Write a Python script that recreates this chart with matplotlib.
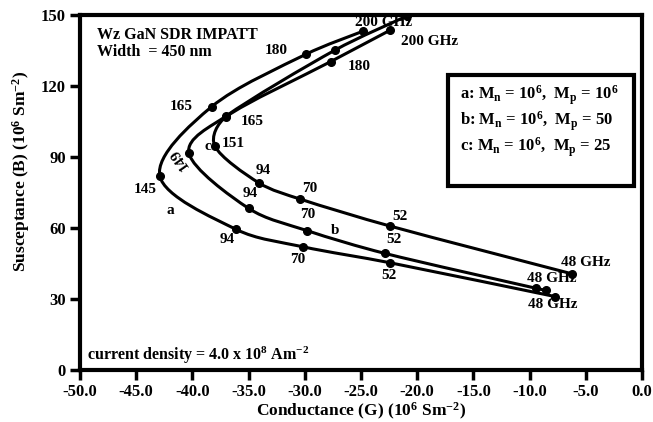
import numpy as np
import matplotlib
matplotlib.use("Agg")
from matplotlib import pyplot as plt
from matplotlib.path import Path
from matplotlib.patches import PathPatch, Rectangle

plt.rcParams['font.family'] = ['Liberation Serif', 'DejaVu Serif']
plt.rcParams['font.weight'] = 'bold'
plt.rcParams['axes.labelweight'] = 'bold'
plt.rcParams['mathtext.fontset'] = 'custom'
plt.rcParams['mathtext.rm'] = 'Liberation Serif:bold'
plt.rcParams['mathtext.bf'] = 'Liberation Serif:bold'
plt.rcParams['mathtext.it'] = 'Liberation Serif:bold'

# conductance G (10^6 S/m^2) and susceptance B (10^6 S/m^2)
# curve a : Mn = 1e6, Mp = 1e6   (200, 180, 165, 145, 94, 70, 52, 48 GHz)
G_a = [-24.8, -29.9, -38.3, -42.9, -36.1, -30.2, -22.4, -7.7]
B_a = [143.2, 133.4, 111.2, 82.0, 59.4, 52.1, 45.3, 31.0]
# curve b : Mn = 1e6, Mp = 50   (200, 180, 165, 149, 94, 70, 52, .., 48 GHz)
G_b = [-20.9, -27.3, -37.0, -40.3, -35.0, -29.8, -22.9, -9.4, -8.5]
B_b = [149.6, 135.2, 107.3, 91.5, 68.3, 58.9, 49.3, 34.5, 33.6]
# curve c : Mn = 1e6, Mp = 25   (200, 180, 165, 151, 94, 70, 52, 48 GHz)
G_c = [-22.4, -27.7, -37.0, -38.0, -34.1, -30.4, -22.4, -6.2]
B_c = [143.6, 130.3, 107.0, 94.6, 79.1, 72.2, 60.8, 40.6]

x_ticks = np.arange(-50, 0.1, 5)
y_ticks = np.arange(0, 151, 30)


def smooth_path(xs, ys, sx, sy):
    # excel-like smoothed line: cubic bezier with catmull-rom handles
    p = np.column_stack([np.asarray(xs) * sx, np.asarray(ys) * sy])
    n = len(p)
    verts = [p[0]]
    codes = [Path.MOVETO]
    for i in range(n - 1):
        t0 = p[min(i + 1, n - 1)] - p[max(i - 1, 0)]
        t1 = p[min(i + 2, n - 1)] - p[i]
        seg = np.linalg.norm(p[i + 1] - p[i])
        h0 = t0 / 6
        h1 = t1 / 6
        if np.linalg.norm(h0) > seg / 3:
            h0 = h0 / np.linalg.norm(h0) * seg / 3
        if np.linalg.norm(h1) > seg / 3:
            h1 = h1 / np.linalg.norm(h1) * seg / 3
        verts += [p[i] + h0, p[i + 1] - h1, p[i + 1]]
        codes += [Path.CURVE4] * 3
    verts = np.array(verts)
    verts[:, 0] /= sx
    verts[:, 1] /= sy
    return Path(verts, codes)


fig = plt.figure(figsize=(6.53, 4.22), dpi=100)
ax = fig.add_axes([80 / 653, 52 / 422, 562 / 653, 355 / 422])

sx, sy = 562 / 50, 355 / 150
for G, B in [(G_a, B_a), (G_b, B_b), (G_c, B_c)]:
    ax.add_patch(PathPatch(smooth_path(G, B, sx, sy), fill=False,
                           lw=2.2, edgecolor='black', capstyle='round'))
    ax.plot(G, B, 'o', color='black', ms=5.5)

ax.set_xlim(-50, 0)
ax.set_ylim(0, 150)
ax.set_xticks(x_ticks)
ax.set_xticklabels([f"{v:.1f}" for v in x_ticks], fontweight='bold')
ax.set_yticks(y_ticks)
ax.set_yticklabels([f"{v:d}" for v in y_ticks], fontweight='bold')
for s in ax.spines.values():
    s.set_linewidth(3)
ax.tick_params(direction='out', length=7, width=2.5, labelsize=12, pad=3)

ax.set_xlabel(r"Conductance (G) (10$^{6}$ Sm$^{-2}$)", fontsize=12.5, labelpad=1, fontweight='bold')
ax.set_ylabel(r"Susceptance (B) (10$^{6}$ Sm$^{-2}$)", fontsize=12.5, fontweight='bold')
ax.yaxis.set_label_coords(-0.085, 0.56)

fs = 11
kw = dict(fontsize=fs, ha='center', va='center', fontweight='bold')
# curve a labels
ax.text(-44.2, 76.3, "145", **kw)
ax.text(-41.0, 111.5, "165", **kw)
ax.text(-32.5, 134.9, "180", **kw)
ax.text(-23.0, 146.7, "200 GHz", **kw)
ax.text(-42.0, 67.6, "a", **kw)
ax.text(-36.9, 55.2, "94", **kw)
ax.text(-30.6, 46.5, "70", **kw)
ax.text(-22.5, 40.1, "52", **kw)
ax.text(-7.9, 27.5, "48 GHz", **kw)
# curve b labels
ax.text(-41.2, 89.4, "149", rotation=125, rotation_mode='anchor', **kw)
ax.text(-34.7, 104.9, "165", **kw)
ax.text(-34.9, 74.6, "94", **kw)
ax.text(-29.7, 65.5, "70", **kw)
ax.text(-27.3, 58.9, "b", **kw)
ax.text(-22.1, 55.2, "52", **kw)
ax.text(-8.0, 38.7, "48 GHz", **kw)
# curve c labels
ax.text(-38.6, 94.6, "c", **kw)
ax.text(-36.4, 95.5, "151", **kw)
ax.text(-33.7, 84.5, "94", **kw)
ax.text(-29.6, 76.8, "70", **kw)
ax.text(-21.5, 64.8, "52", **kw)
ax.text(-25.2, 128.1, "180", **kw)
ax.text(-18.9, 138.7, "200 GHz", **kw)
ax.text(-5.0, 45.3, "48 GHz", **kw)

tkw = dict(transform=ax.transAxes, va='center', fontweight='bold')
ax.text(0.03, 0.945, "Wz GaN SDR IMPATT", fontsize=11.5, **tkw)
ax.text(0.03, 0.895, "Width  = 450 nm", fontsize=11.5, **tkw)
ax.text(0.012, 0.04, r"current density = 4.0 x 10$^{8}$ Am$^{-2}$", fontsize=11.5, **tkw)

ax.add_patch(Rectangle((0.655, 0.518), 0.33, 0.313, transform=ax.transAxes,
                       fill=False, lw=3, edgecolor='black'))
leg_lines = [r"a: M$_{n}$ = 10$^{6}$,  M$_{p}$ = 10$^{6}$",
             r"b: M$_{n}$ = 10$^{6}$,  M$_{p}$ = 50",
             r"c: M$_{n}$ = 10$^{6}$,  M$_{p}$ = 25"]
for i, t in enumerate(leg_lines):
    ax.text(0.677, 0.775 - i * 0.0735, t, fontsize=12, **tkw)

fig.savefig("out.png", dpi=100)
